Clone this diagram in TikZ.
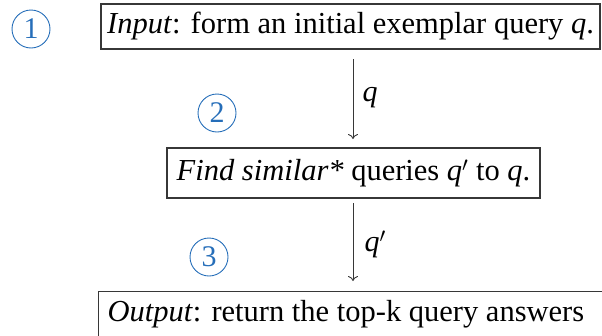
\documentclass[tikz,border=0pt]{standalone}
\usepackage{fontspec}
\setmainfont{Liberation Serif}
\usetikzlibrary{arrows.meta}
\definecolor{stepblue}{RGB}{38,110,185}
\definecolor{boxgray}{RGB}{55,55,55}
\begin{document}
\begin{tikzpicture}[x=1pt,y=-1pt,
  stepbox/.style={draw=boxgray,line width=1.1pt,inner sep=0pt,font=\fontsize{30.5}{34}\selectfont},
  num/.style={circle,draw=stepblue,line width=0.9pt,text=stepblue,minimum size=38pt,inner sep=0pt,font=\fontsize{30}{34}\selectfont},
  flow/.style={draw=boxgray,line width=0.9pt,-{To[length=5pt,width=10pt]}},
  lab/.style={font=\fontsize{30}{34}\selectfont,anchor=west}]
\useasboundingbox (0,0) rectangle (602,335);
\clip (0,0) rectangle (602,335);
\node[stepbox,minimum width=499pt,minimum height=45pt] (b1) at (350.5,26.5)
  {\textit{Input}: form an initial exemplar query \textit{q}.};
\node[stepbox,minimum width=373pt,minimum height=50pt] (b2) at (353.5,173)
  {\textit{Find similar*} queries \textit{q}$'$ to \textit{q}.};
\node[stepbox,anchor=north west,minimum height=46pt,inner xsep=9pt,text width=540pt,align=flush left] (b3) at (98,291)
  {\textit{Output}: return the top-k query answers};
\node[num] (n1) at (31,29) {1};
\node[num] (n2) at (217,113) {2};
\node[num] (n3) at (209,257) {3};
\coordinate (a1s) at (353,59);
\coordinate (a1e) at (353,139);
\coordinate (a2s) at (353,203);
\coordinate (a2e) at (353,281);
\draw[flow] (a1s) -- (a1e);
\draw[flow] (a2s) -- (a2e);
\node[lab] (q1) at (359,98) {\textit{q}};
\node[lab] (q2) at (361,244) {\textit{q}$'$};
\end{tikzpicture}
\end{document}
